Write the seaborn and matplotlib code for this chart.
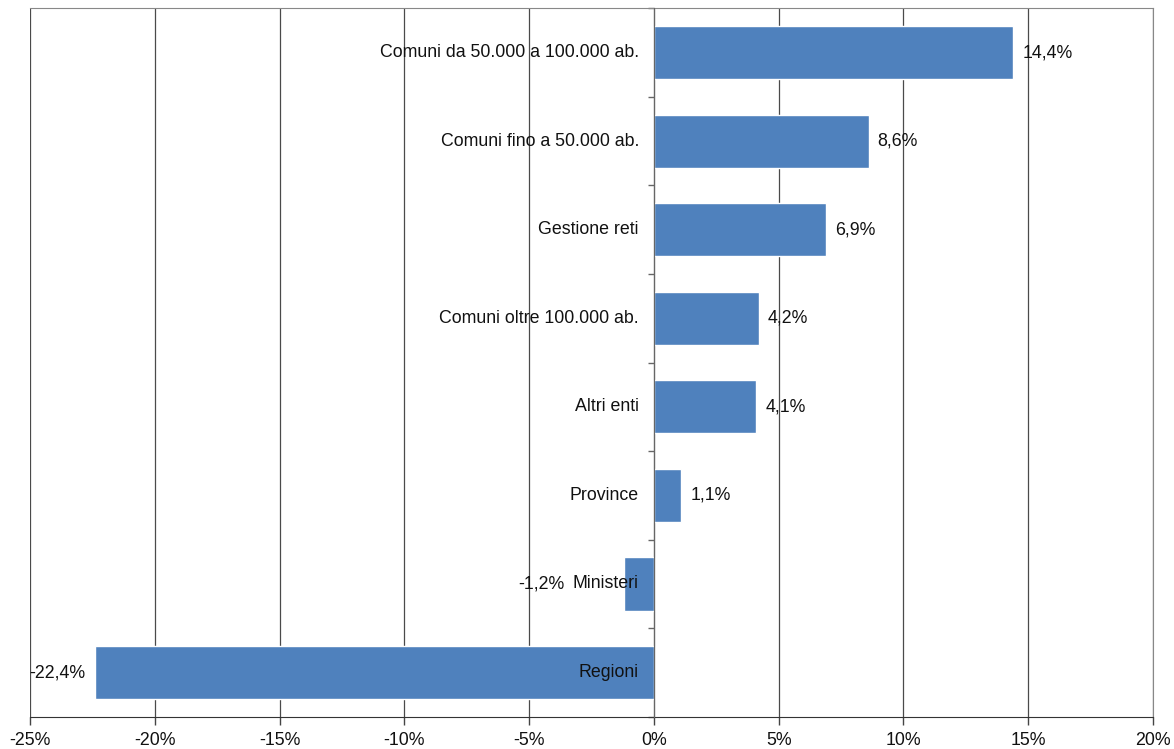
import pandas as pd
import matplotlib
matplotlib.use("Agg")
import matplotlib.pyplot as plt
import seaborn as sns
from matplotlib.ticker import FixedLocator, FuncFormatter

categorie = [
    "Comuni da 50.000 a 100.000 ab.",
    "Comuni fino a 50.000 ab.",
    "Gestione reti",
    "Comuni oltre 100.000 ab.",
    "Altri enti",
    "Province",
    "Ministeri",
    "Regioni",
]
variazioni = [14.4, 8.6, 6.9, 4.2, 4.1, 1.1, -1.2, -22.4]
etichette = ["14,4%", "8,6%", "6,9%", "4,2%", "4,1%", "1,1%", "-1,2%", "-22,4%"]
tick_x = [-25, -20, -15, -10, -5, 0, 5, 10, 15, 20]

sns.set_style("white")
plt.rcParams["font.family"] = ["Liberation Sans", "DejaVu Sans"]

FS = 12.8
df = pd.DataFrame({"categoria": categorie, "variazione": variazioni})

fig = plt.figure(figsize=(11.74, 7.49), dpi=100)
ax = fig.add_axes([0.0256, 0.043, 0.9565, 0.946])

sns.barplot(data=df, x="variazione", y="categoria", orient="h",
            color="#4F81BD", saturation=1, width=0.6, ax=ax, zorder=3)

ax.set_xlim(-25, 20)
ax.set_ylim(len(categorie) - 0.5, -0.5)
ax.xaxis.set_major_locator(FixedLocator(tick_x))
ax.xaxis.set_major_formatter(FuncFormatter(lambda v, p: f"{int(round(v))}%"))
ax.grid(axis="x", color="#4a4a4a", linewidth=0.9, zorder=0)
ax.grid(axis="y", visible=False)
ax.set_xlabel("")
ax.set_ylabel("")
ax.tick_params(axis="x", bottom=True, length=6, width=1, color="#444444",
               labelsize=FS, pad=5, labelcolor="#111111")

# asse verticale sullo zero con tacche fra le categorie
ax.spines["left"].set_position(("data", 0))
ax.spines["left"].set_color("#666666")
ax.spines["left"].set_zorder(4)
ax.set_yticks([])
ax.set_yticks([i + 0.5 for i in range(-1, len(categorie))], minor=True)
ax.tick_params(axis="y", which="minor", left=True, length=4, width=1,
               color="#666666", labelleft=False)
for s in ["top", "right"]:
    ax.spines[s].set_color("#888888")
ax.spines["bottom"].set_color("#333333")

cat_texts = []
for i, nome in enumerate(categorie):
    t = ax.annotate(nome, xy=(0, i), xytext=(-15, 0), textcoords="offset pixels",
                    ha="right", va="center", fontsize=FS, color="#111111", zorder=5)
    cat_texts.append(t)

fig.canvas.draw()
renderer = fig.canvas.get_renderer()
inv = ax.transData.inverted()

for i, (v, lab) in enumerate(zip(variazioni, etichette)):
    if v >= 0:
        ax.annotate(lab, xy=(v, i), xytext=(9, 0), textcoords="offset pixels",
                    ha="left", va="center", fontsize=FS, color="#111111", zorder=5)
    else:
        bar_px = ax.transData.transform((v, i))[0] - 10
        cat_px = cat_texts[i].get_window_extent(renderer).x0 - 8
        x_px = min(bar_px, cat_px)
        x_data = inv.transform((x_px, ax.transData.transform((0, i))[1]))[0]
        ax.text(x_data, i, lab, ha="right", va="center", fontsize=FS,
                color="#111111", zorder=5)

fig.savefig("out.png", dpi=100)
plt.close(fig)
